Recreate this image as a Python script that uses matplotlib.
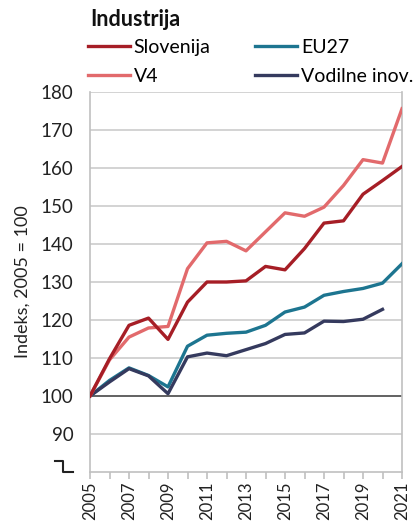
import matplotlib
matplotlib.use("Agg")
import matplotlib.pyplot as plt
from matplotlib.lines import Line2D

plt.rcParams['font.family'] = ['Lato', 'DejaVu Sans']

years = list(range(2005, 2022))
slovenija = [100, 109.8, 118.6, 120.5, 114.9, 124.7, 130.0, 130.0, 130.3, 134.1, 133.2, 138.8, 145.5, 146.1, 153.1, 156.7, 160.4]
v4 = [100, 109.5, 115.5, 117.9, 118.3, 133.5, 140.3, 140.7, 138.2, 143.2, 148.2, 147.3, 149.7, 155.4, 162.2, 161.3, 175.6]
eu27 = [100, 104.1, 107.4, 105.4, 102.4, 113.1, 116.0, 116.5, 116.8, 118.6, 122.1, 123.4, 126.5, 127.5, 128.3, 129.7, 134.8]
vodilne_years = list(range(2005, 2021))
vodilne = [100, 103.7, 107.2, 105.3, 100.6, 110.3, 111.3, 110.6, 112.2, 113.8, 116.2, 116.6, 119.7, 119.6, 120.2, 122.8]

yticks = [90, 100, 110, 120, 130, 140, 150, 160, 170, 180]
xtick_labels = [str(y) if (y - 2005) % 2 == 0 else "" for y in years]

c_slo = "#a61e26"
c_v4 = "#e26a6c"
c_eu = "#1d7590"
c_vod = "#353a5e"

fig = plt.figure(figsize=(4.13, 5.21), dpi=100)
ax = fig.add_axes([90/413, 1 - 472/521, (402-90)/413, (472-92)/521])

for yv in yticks:
    if yv == 100:
        ax.axhline(yv, color="#555555", lw=1.3, zorder=1)
    else:
        ax.axhline(yv, color="#cccccc", lw=1.2, zorder=1)

lw = 2.4
ax.plot(years, eu27, color=c_eu, lw=lw, zorder=3, solid_joinstyle='round')
ax.plot(vodilne_years, vodilne, color=c_vod, lw=lw, zorder=4, solid_joinstyle='round')
ax.plot(years, v4, color=c_v4, lw=lw, zorder=5, solid_joinstyle='round')
ax.plot(years, slovenija, color=c_slo, lw=lw, zorder=6, solid_joinstyle='round')

fs = 13.5
ax.set_xlim(2005, 2021)
ax.set_ylim(80, 180)
ax.set_yticks(yticks)
ax.set_yticklabels([str(v) for v in yticks], fontsize=fs, color="#222222")
ax.tick_params(axis='y', length=0, pad=12)
ax.set_xticks(years)
ax.set_xticklabels(xtick_labels, rotation=90, fontsize=12, color="#222222")
ax.tick_params(axis='x', length=5, width=1.2, color="#c0c0c0", pad=2)

for s in ['left', 'bottom', 'right']:
    ax.spines[s].set_color("#c0c0c0")
    ax.spines[s].set_linewidth(1.2)
ax.spines['top'].set_visible(False)

ax.set_ylabel("Indeks, 2005 = 100", fontsize=13, color="#222222", labelpad=7)

# axis break symbol
brk = Line2D([-0.112, -0.087, -0.087, -0.055], [0.029, 0.029, 0.0, 0.0],
             transform=ax.transAxes, color="#222222", lw=1.5, clip_on=False)
ax.add_line(brk)

fig.text(90/413, 1 - 19/521, "Industrija", fontsize=15.5, fontweight='bold',
         va='center', ha='left', color="#111111")

handles = [Line2D([], [], color=c_slo, lw=lw), Line2D([], [], color=c_v4, lw=lw),
           Line2D([], [], color=c_eu, lw=lw), Line2D([], [], color=c_vod, lw=lw)]
labels = ["Slovenija", "V4", "EU27", "Vodilne inov."]
fig.legend(handles, labels, ncol=2, loc='upper left',
           bbox_to_anchor=(88/413, 1 - 39/521), frameon=False,
           fontsize=14, handlelength=2.15, handletextpad=0.2,
           columnspacing=2.3, labelspacing=0.62, borderaxespad=0, borderpad=0)

fig.savefig("out.png", dpi=100)
